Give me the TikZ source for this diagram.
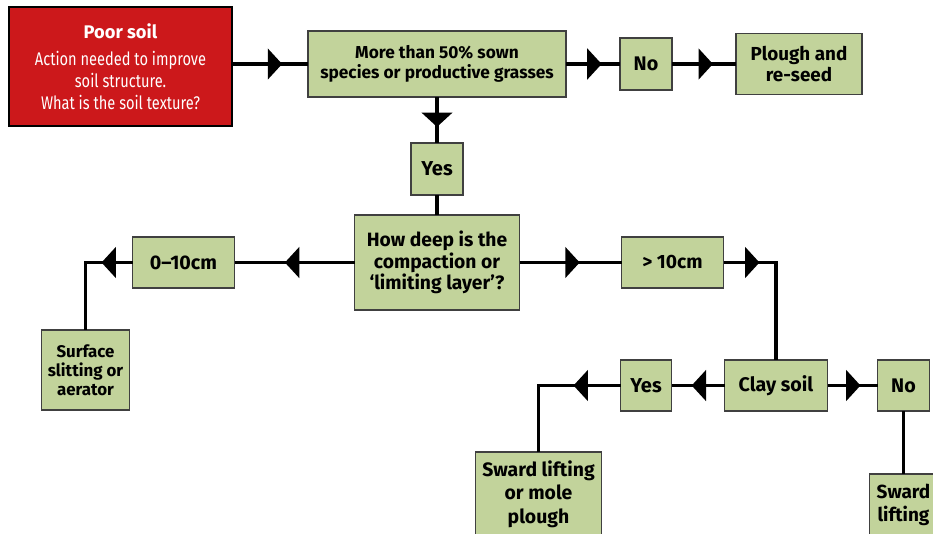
\documentclass[tikz,border=0pt]{standalone}
\usepackage{fontspec}
\setmainfont{Fira Sans}
\newfontfamily\condfont[FakeStretch=0.8]{Fira Sans}
\usetikzlibrary{positioning}
\usetikzlibrary{arrows.meta}
\usetikzlibrary{decorations.markings}
\definecolor{soilgreen}{HTML}{C2D39B}
\definecolor{soilred}{HTML}{CC181B}
\tikzset{
  box/.style 2 args={minimum width=#1cm,minimum height=#2cm},
  flow/.style={connect,postaction={decorate},
    decoration={markings,mark=at position #1 with {\arrow{Triangle[length=0.36cm,width=0.76cm]}}}},
  flow/.default=0.66
}

\begin{document}
\begin{tikzpicture}
			[every node/.style={rectangle,draw=black!75,fill=soilgreen,line width=0.8pt,inner sep=1mm,outer sep=0pt,
			                    align=center,font=\bfseries\fontsize{14}{16}\selectfont},
			 connect/.style={line width=2.8pt}]
			\useasboundingbox (0,0) rectangle (23.325,-13.325);

			% top row
			\node (poor) [box={5.575}{2.975},fill=soilred,draw=black,text=white,
			  font=\condfont\fontsize{13}{15.6}\selectfont] at (3.0125,-1.6625)
			  {{\normalfont\bfseries\fontsize{13}{15.6}\selectfont Poor soil}\\[4pt]Action needed to improve\\soil structure.\\What is the soil texture?};
			\node (more) [box={6.45}{1.65},right=1.9 of poor,yshift=0.0625cm,font=\bfseries\fontsize{12.3}{14.2}\selectfont]
			  {More than 50\% sown\\species or productive grasses};
			\node (no1) [box={1.3}{1.3},right=1.35 of more] {No};
			\node (plough) [box={3.15}{1.525},right=1.6 of no1,font=\bfseries\fontsize{13.4}{15.6}\selectfont] {Plough and\\re-seed};
			\node (yes1) [box={1.3}{1.3},below=1.15 of more,font=\bfseries\fontsize{14.3}{16}\selectfont] {Yes};

			% compaction depth
			\node (deep) [box={4.125}{2.375},below=0.5 of yes1,font=\bfseries\fontsize{13.7}{15.3}\selectfont]
			  {How deep is the\\compaction or\\‘limiting layer’?};
			\node (shallow) [box={2.55}{1.275},left=3.0 of deep] {0--10cm};
			\node (surface) [box={2.2}{2.0},below=1.05 of shallow,xshift=-2.45cm,
			  font=\bfseries\fontsize{12}{13.5}\selectfont] {Surface\\slitting or\\aerator};
			\node (deepcm) [box={2.55}{1.275},right=2.55 of deep,font=\bfseries\fontsize{13.7}{16}\selectfont] {> 10cm};

			% clay soil
			\node (clay) [box={2.575}{1.275},below=1.8 of deepcm,xshift=2.5875cm] {Clay soil};
			\node (yes2) [box={1.275}{1.275},left=1.325 of clay,font=\bfseries\fontsize{14.3}{16}\selectfont] {Yes};
			\node (no2) [box={1.3}{1.275},right=1.25 of clay] {No};
			\node (sward1) [box={3.15}{2.1},below=1.025 of yes2,xshift=-2.6875cm,
			  font=\bfseries\fontsize{13.8}{16.7}\selectfont] {Sward lifting\\or mole\\plough};
			\node (sward2) [box={1.7}{1.55},below=1.575 of no2,
			  font=\bfseries\fontsize{13.5}{16.3}\selectfont] {Sward\\lifting};

			% connectors
			\draw [flow] (poor.east |- more.west) -- (more);
			\draw [flow] (more) -- (no1);
			\draw [flow=0.64] (no1) -- (plough);
			\draw [flow=0.65] (more) -- (yes1);
			\draw [connect] (yes1) -- (deep);
			\draw [flow=0.58] (deep) -- (shallow);
			\draw [flow=0.59] (deep) -- (deepcm);
			\draw [flow=0.775cm] (shallow.west) -| (surface.north);
			\draw [flow=0.9cm] (deepcm.east) -| (clay.north);
			\draw [flow=0.62] (clay) -- (yes2);
			\draw [flow=1.175cm] (yes2.west) -| (sward1.north);
			\draw [flow] (clay) -- (no2);
			\draw [connect] (no2) -- (sward2);
		\end{tikzpicture}
\end{document}
